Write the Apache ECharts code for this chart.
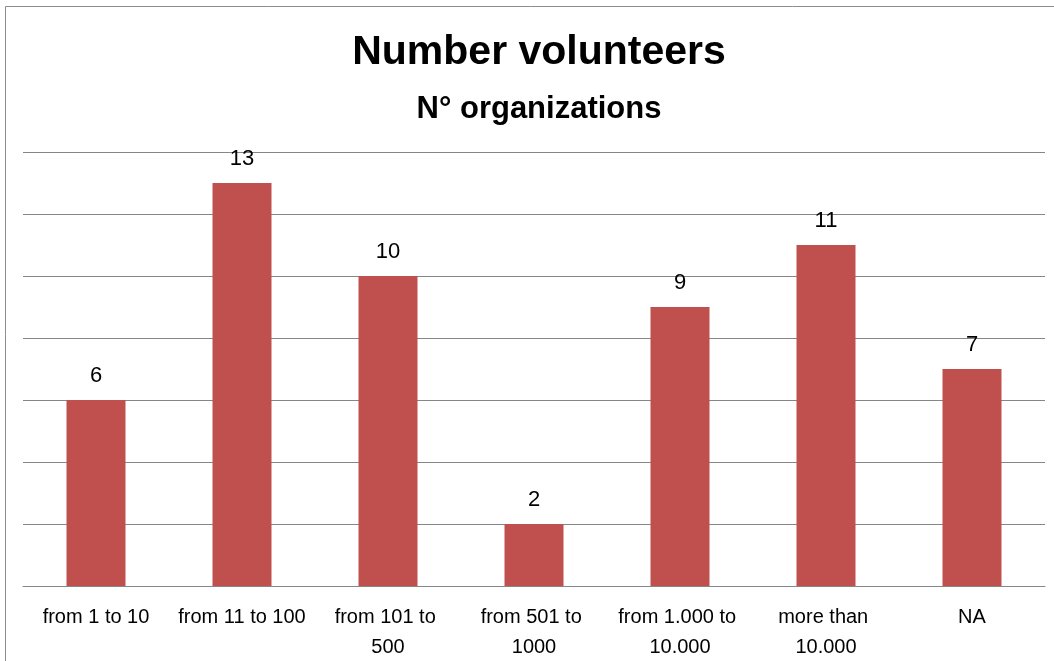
<!DOCTYPE html>
<html>
<head>
<meta charset="utf-8">
<script src="https://cdn.jsdelivr.net/npm/echarts@6/dist/echarts.min.js"></script>
<style>
  html, body { margin: 0; padding: 0; background: #fff; }
  #main { width: 1054px; height: 661px; }
</style>
</head>
<body>
<div id="main"></div>
<script>
// 数据
const categories = ['from 1 to 10', 'from 11 to 100', 'from 101 to 500', 'from 501 to 1000', 'from 1.000 to 10.000', 'more than 10.000', 'NA']
const organizations = [6, 13, 10, 2, 9, 11, 7]

const myChart = echarts.init(document.getElementById('main'))
myChart.setOption({
    animation: false,
    textStyle: { fontFamily: '"Liberation Sans", Arial, sans-serif' },
    title: [
        {
            text: 'Number volunteers',
            left: 534,
            top: 27,
            textAlign: 'center',
            textStyle: { fontSize: 41, fontWeight: 'bold', color: '#000' }
        },
        {
            text: 'N° organizations',
            left: 534,
            top: 89,
            textAlign: 'center',
            textStyle: { fontSize: 31, fontWeight: 'bold', color: '#000' }
        }
    ],
    graphic: [
        {
            type: 'rect',
            shape: { x: 5.5, y: 6.5, width: 1200, height: 1000 },
            style: { fill: 'none', stroke: '#8c8c8c', lineWidth: 1 },
            silent: true
        }
    ],
    grid: { left: 23, right: 9, top: 152, bottom: 75, outerBoundsMode: 'none' },
    xAxis: {
        type: 'category',
        data: categories,
        axisLine: { lineStyle: { color: '#868686' } },
        axisTick: { show: false },
        axisLabel: {
            color: '#000',
            fontSize: 20,
            lineHeight: 30,
            margin: 16,
            interval: 0,
            width: 136,
            overflow: 'break'
        }
    },
    yAxis: {
        type: 'value',
        min: 0,
        max: 14,
        interval: 2,
        axisLine: { show: false },
        axisTick: { show: false },
        axisLabel: { show: false },
        splitLine: { lineStyle: { color: '#868686' } }
    },
    series: [
        {
            name: 'N° organizations',
            type: 'bar',
            data: organizations,
            barWidth: 59,
            itemStyle: { color: '#C0504D' },
            label: {
                show: true,
                position: 'top',
                distance: 13,
                color: '#000',
                fontSize: 22
            }
        }
    ]
})
</script>
</body>
</html>
